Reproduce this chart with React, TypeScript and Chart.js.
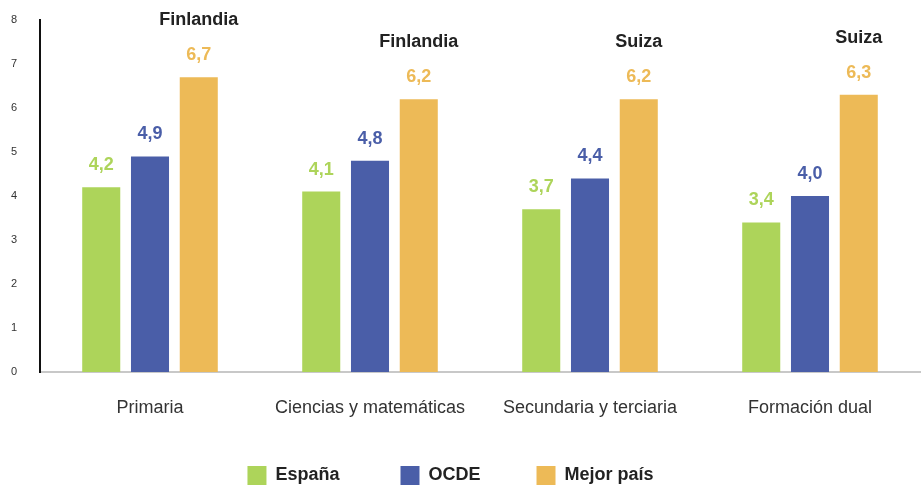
import React, { useEffect, useRef } from "react";
import { Chart, registerables } from "chart.js";

Chart.register(...registerables);

const categories = ["Primaria", "Ciencias y matemáticas", "Secundaria y terciaria", "Formación dual"];
const espana = [4.2, 4.1, 3.7, 3.4];
const ocde = [4.9, 4.8, 4.4, 4.0];
const mejorPais = [6.7, 6.2, 6.2, 6.3];
const mejorPaisNombre = ["Finlandia", "Finlandia", "Suiza", "Suiza"];
const yTicks = [0, 1, 2, 3, 4, 5, 6, 7, 8];

const GREEN = "#ADD45A";
const BLUE = "#4A5EA8";
const ORANGE = "#EDBA57";
const FONT = "'Liberation Sans', Arial, Helvetica, sans-serif";

const SHIFT = -6; // canvas left offset (page px)
const CW = 924 - SHIFT;
const TICK_LEFT = 11; // page x of y tick labels
const LEGEND_TRAIL = [3, 2, 6]; // trailing spaces after each legend text (item spacing)

const fmt = (v: number) => v.toFixed(1).replace(".", ",");

const labelPlugin = {
  id: "valueLabels",
  afterDatasetsDraw(chart: any) {
    const ctx = chart.ctx;
    ctx.save();
    ctx.textAlign = "center";
    ctx.textBaseline = "middle";
    chart.data.datasets.forEach((ds: any, i: number) => {
      const meta = chart.getDatasetMeta(i);
      meta.data.forEach((el: any, j: number) => {
        ctx.font = `bold 18px ${FONT}`;
        ctx.fillStyle = ds.backgroundColor;
        ctx.fillText(fmt(ds.data[j]), el.x, el.y - 22);
        if (i === 2) {
          ctx.font = `bold 18px ${FONT}`;
          ctx.fillStyle = "#222222";
          ctx.fillText(mejorPaisNombre[j], el.x, el.y - 57);
        }
      });
    });
    ctx.restore();
  },
};

export default function App() {
  const ref = useRef<HTMLCanvasElement | null>(null);
  useEffect(() => {
    if (!ref.current) return;
    const chart = new Chart(ref.current, {
      type: "bar",
      data: {
        labels: categories,
        datasets: [
          { label: "España", data: espana, backgroundColor: GREEN },
          { label: "OCDE", data: ocde, backgroundColor: BLUE },
          { label: "Mejor país", data: mejorPais, backgroundColor: ORANGE },
        ],
      },
      options: {
        responsive: false,
        animation: false,
        devicePixelRatio: 1,
        layout: { padding: { top: 20, right: CW - (920 - SHIFT), left: TICK_LEFT - SHIFT, bottom: 0 } },
        datasets: { bar: { categoryPercentage: 0.665, barPercentage: 0.78 } },
        plugins: {
          tooltip: { enabled: false },
          legend: {
            position: "bottom",
            labels: {
              boxWidth: 19,
              boxHeight: 19,
              padding: 46,
              color: "#222222",
              font: { family: FONT, size: 18, weight: "bold" },
              generateLabels: (chart: any) => {
                const items = Chart.defaults.plugins.legend.labels.generateLabels(chart);
                return items.map((it: any, k: number) => ({ ...it, text: it.text + " ".repeat(LEGEND_TRAIL[k] || 0) }));
              },
            },
          },
        },
        scales: {
          x: {
            grid: { display: false, drawTicks: false },
            border: { display: true, color: "#c8c8c8", width: 2 },
            ticks: { color: "#333333", padding: 25, font: { family: FONT, size: 18 } },
            afterFit: (s: any) => { s.height = 48; },
          },
          y: {
            min: 0,
            max: 8,
            afterBuildTicks: (s: any) => { s.ticks = yTicks.map((v) => ({ value: v })); },
            grid: { display: false, drawTicks: false },
            border: { display: true, color: "#111111", width: 2 },
            ticks: { color: "#333333", padding: 0, crossAlign: "far", font: { family: FONT, size: 11 } },
            afterFit: (s: any) => { s.width = 40 - TICK_LEFT; },
          },
        },
      },
      plugins: [labelPlugin],
    } as any);
    return () => chart.destroy();
  }, []);
  return (
    <div style={{ position: "fixed", left: SHIFT, top: 0, width: CW, height: 495, overflow: "hidden", background: "#fff" }}>
      <canvas ref={ref} width={CW} height={495} style={{ display: "block" }} />
    </div>
  );
}
